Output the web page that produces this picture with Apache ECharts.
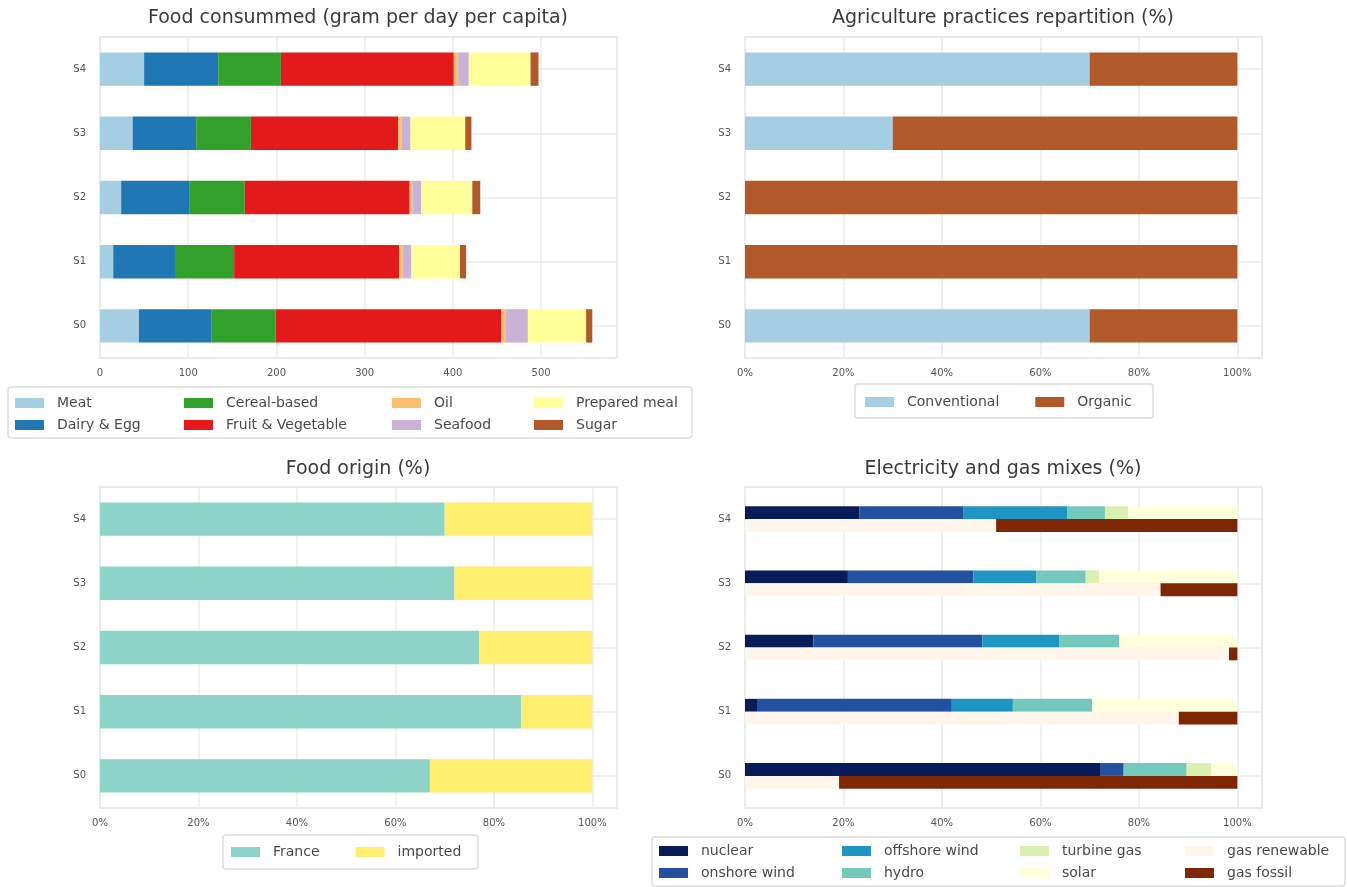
<!DOCTYPE html>
<html>
<head>
<meta charset="utf-8">
<script src="https://cdn.jsdelivr.net/npm/echarts@6/dist/echarts.min.js"></script>
<style>
html,body{margin:0;padding:0;background:#fff;}
#chart{width:1347px;height:887px;}
</style>
</head>
<body>
<div id="chart"></div>
<script>
// ---------- data ----------
const scenarios = ['S0', 'S1', 'S2', 'S3', 'S4'];

// Food consumed (gram per day per capita)
const foodMeat      = [44, 15, 24, 37, 50];
const foodDairyEgg  = [82, 70, 77, 72, 84];
const foodCereal    = [73, 67, 63, 62, 71];
const foodFruitVeg  = [256, 187, 187, 167, 196];
const foodOil       = [5, 4, 3, 4, 5];
const foodSeafood   = [25, 10, 10, 10, 12];
const foodPrepared  = [66, 55, 58, 62, 70];
const foodSugar     = [7, 7, 9, 7, 9];

// Agriculture practices (%)
const agriConventional = [70, 0, 0, 30, 70];
const agriOrganic      = [30, 100, 100, 70, 30];

// Food origin (%)
const originFrance   = [67, 85.5, 77, 72, 70];
const originImported = [33, 14.5, 23, 28, 30];

// Electricity mix (%)
const elecNuclear  = [72.1, 2.6, 13.9, 20.9, 23.2];
const elecOnshore  = [4.8, 39.4, 34.3, 25.5, 21.1];
const elecOffshore = [0, 12.4, 15.6, 12.8, 21.2];
const elecHydro    = [12.8, 16.1, 12.2, 10.0, 7.6];
const elecTurbine  = [5.0, 0, 0, 2.7, 4.7];
const elecSolar    = [5.3, 29.5, 24.0, 28.1, 22.2];
// Gas mix (%)
const gasRenewable = [19.1, 88.1, 98.3, 84.4, 51.0];
const gasFossil    = [80.9, 11.9, 1.7, 15.6, 49.0];

const gramTicksMax = 586;
const pctMax = 105;

// ---------- styles ----------
const FONT = 'DejaVu Sans';
const GRID_LINE = '#ebebeb';
const FRAME = '#e3e3e3';
const TICK_COLOR = '#555';
const LEGEND_TEXT = '#4a4a4a';

const grids = [
  {left: 100, width: 517, top: 37, height: 321},
  {left: 745, width: 517, top: 37, height: 321},
  {left: 100, width: 517, top: 487, height: 321},
  {left: 745, width: 517, top: 487, height: 321}
].map(g => Object.assign({show: true, borderColor: FRAME, borderWidth: 1.5, backgroundColor: '#fff', containLabel: false}, g));

function xAxisFor(idx, max, interval, pct) {
  return {
    type: 'value', gridIndex: idx, min: 0, max: max, interval: interval,
    axisLine: {show: false}, axisTick: {show: false},
    splitLine: {show: true, lineStyle: {color: GRID_LINE, width: 1.5}},
    axisLabel: {
      color: TICK_COLOR, fontFamily: FONT, fontSize: 10, margin: 10,
      formatter: v => (Math.abs(v % interval) < 1e-9 ? (pct ? v + '%' : String(v)) : '')
    }
  };
}
function yAxisFor(idx) {
  return {
    type: 'category', gridIndex: idx, data: scenarios,
    axisLine: {show: false}, axisTick: {show: false, alignWithLabel: true},
    splitLine: {show: true, alignWithLabel: true, lineStyle: {color: GRID_LINE, width: 1.5}},
    axisLabel: {color: TICK_COLOR, fontFamily: FONT, fontSize: 10, margin: 14}
  };
}

function bar(name, data, color, gi, stack, width) {
  return {
    name: name, type: 'bar', data: data, stack: stack,
    xAxisIndex: gi, yAxisIndex: gi, barWidth: width, barGap: '0%',
    itemStyle: {color: color}, emphasis: {disabled: true},
    z: 3
  };
}

const series = [
  bar('Meat', foodMeat, '#a6cee3', 0, 'food', '52%'),
  bar('Dairy & Egg', foodDairyEgg, '#1f78b4', 0, 'food', '52%'),
  bar('Cereal-based', foodCereal, '#33a02c', 0, 'food', '52%'),
  bar('Fruit & Vegetable', foodFruitVeg, '#e31a1c', 0, 'food', '52%'),
  bar('Oil', foodOil, '#fdbf6f', 0, 'food', '52%'),
  bar('Seafood', foodSeafood, '#cab2d6', 0, 'food', '52%'),
  bar('Prepared meal', foodPrepared, '#ffff99', 0, 'food', '52%'),
  bar('Sugar', foodSugar, '#b15928', 0, 'food', '52%'),

  bar('Conventional', agriConventional, '#a6cee3', 1, 'agri', '52%'),
  bar('Organic', agriOrganic, '#b15928', 1, 'agri', '52%'),

  bar('France', originFrance, '#8dd3c7', 2, 'origin', '52%'),
  bar('imported', originImported, '#ffed6f', 2, 'origin', '52%'),

  bar('nuclear', elecNuclear, '#081d58', 3, 'elec', '20%'),
  bar('onshore wind', elecOnshore, '#2350a0', 3, 'elec', '20%'),
  bar('offshore wind', elecOffshore, '#1f95c3', 3, 'elec', '20%'),
  bar('hydro', elecHydro, '#74c9ba', 3, 'elec', '20%'),
  bar('turbine gas', elecTurbine, '#d9f0b0', 3, 'elec', '20%'),
  bar('solar', elecSolar, '#ffffdc', 3, 'elec', '20%'),
  bar('gas renewable', gasRenewable, '#fff5eb', 3, 'gas', '20%'),
  bar('gas fossil', gasFossil, '#7f2704', 3, 'gas', '20%')
];

function legendBase(names, left, top, gap, orient) {
  return {
    data: names, orient: orient, left: left, top: top,
    itemWidth: 29, itemHeight: 10, itemGap: gap, icon: 'rect',
    selectedMode: false, padding: 0,
    textStyle: {color: LEGEND_TEXT, fontFamily: FONT, fontSize: 14, padding: [0, 0, 0, 8]}
  };
}
const legendCol = (n, l, t, g) => legendBase(n, l, t, g, 'vertical');
const legendRow = (n, l, t, g) => legendBase(n, l, t, g, 'horizontal');

const legends = [
  legendCol(['Meat', 'Dairy & Egg'], 15, 396, 8),
  legendCol(['Cereal-based', 'Fruit & Vegetable'], 184, 396, 8),
  legendCol(['Oil', 'Seafood'], 392, 396, 8),
  legendCol(['Prepared meal', 'Sugar'], 534, 396, 8),
  legendRow(['Conventional', 'Organic'], 865, 395, 36),
  legendRow(['France', 'imported'], 231, 845, 36),
  legendCol(['nuclear', 'onshore wind'], 659, 844, 8),
  legendCol(['offshore wind', 'hydro'], 842, 844, 8),
  legendCol(['turbine gas', 'solar'], 1020, 844, 8),
  legendCol(['gas renewable', 'gas fossil'], 1185, 844, 8)
];

function frame(x, y, w, h) {
  return {
    type: 'rect', z: -1, silent: true,
    shape: {x: x, y: y, width: w, height: h, r: 3},
    style: {fill: '#fff', stroke: '#dcdcdc', lineWidth: 1.5}
  };
}

function title(text, cx, top) {
  return {
    text: text, left: cx, top: top, textAlign: 'center', padding: 0,
    textStyle: {color: '#3a3a3a', fontFamily: FONT, fontSize: 19, fontWeight: 'normal'}
  };
}

const option = {
  backgroundColor: '#fff',
  animation: false,
  title: [
    title('Food consummed (gram per day per capita)', 358, 9),
    title('Agriculture practices repartition (%)', 1003, 9),
    title('Food origin (%)', 358, 460),
    title('Electricity and gas mixes (%)', 1003, 460)
  ],
  grid: grids,
  xAxis: [
    xAxisFor(0, gramTicksMax, 100, false),
    xAxisFor(1, pctMax, 20, true),
    xAxisFor(2, pctMax, 20, true),
    xAxisFor(3, pctMax, 20, true)
  ],
  yAxis: [yAxisFor(0), yAxisFor(1), yAxisFor(2), yAxisFor(3)],
  legend: legends,
  graphic: [
    frame(8, 387, 684, 51),
    frame(855, 384, 298, 34),
    frame(223, 835, 255, 34),
    frame(652, 837, 693, 49)
  ],
  series: series
};

const chart = echarts.init(document.getElementById('chart'), null, {renderer: 'canvas'});
chart.setOption(option);
</script>
</body>
</html>
